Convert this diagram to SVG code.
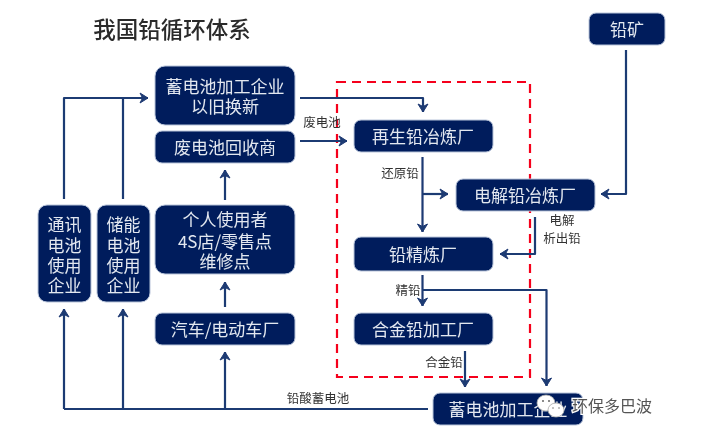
<svg xmlns="http://www.w3.org/2000/svg" width="703" height="445" viewBox="0 0 703 445">
<style>
text{font-family:"Noto Sans CJK SC","Liberation Sans",sans-serif}
.n rect{fill:#001f5c;stroke:#b9c4da;stroke-width:1}
.n text{fill:#e3e7f0;font-size:17px;text-anchor:middle}
.c{fill:none;stroke:#1f3a73;stroke-width:2.2;stroke-linejoin:round}
.a{marker-end:url(#ah)}
.l{fill:#333;font-size:12.5px;text-anchor:middle}
</style>
<defs>
<marker id="ah" markerUnits="userSpaceOnUse" markerWidth="12" markerHeight="12" refX="9" refY="6" orient="auto">
<path d="M1 1 L9 6 L1 11 L3.5 6 Z" fill="#1f3a73" stroke="#1f3a73" stroke-width="1"/>
</marker>
<filter id="b" x="-2%" y="-2%" width="104%" height="104%"><feGaussianBlur stdDeviation="0.45"/></filter>
</defs>
<rect width="703" height="445" fill="#fff"/>
<g filter="url(#b)">
<text x="172" y="38" font-size="22.5" font-weight="500" fill="#2b2b2b" text-anchor="middle">我国铅循环体系</text>
<rect id="redbox" x="337" y="82" width="193" height="295" fill="none" stroke="#f5051f" stroke-width="2.2" stroke-dasharray="9 6"/>
<g id="n1" class="n"><rect x="155" y="66" width="140" height="59" rx="10"/><text x="225" y="93">蓄电池加工企业</text><text x="225" y="113">以旧换新</text></g>
<g id="n2" class="n"><rect x="155" y="131" width="140" height="32" rx="7"/><text x="225" y="154">废电池回收商</text></g>
<g id="n3" class="n"><rect x="155" y="205" width="140" height="69" rx="10"/><text x="225" y="226">个人使用者</text><text x="225" y="248">4S店/零售点</text><text x="225" y="268">维修点</text></g>
<g id="n4" class="n"><rect x="155" y="313" width="140" height="32" rx="7"/><text x="225" y="336">汽车/电动车厂</text></g>
<g id="n5" class="n"><rect x="38" y="205" width="53" height="97" rx="9"/><text x="64.500" y="231">通讯</text><text x="64.500" y="251.500">电池</text><text x="64.500" y="271.500">使用</text><text x="64.500" y="292">企业</text></g>
<g id="n6" class="n"><rect x="97" y="205" width="53" height="97" rx="9"/><text x="123.500" y="231">储能</text><text x="123.500" y="251.500">电池</text><text x="123.500" y="271.500">使用</text><text x="123.500" y="292">企业</text></g>
<g id="n7" class="n"><rect x="589" y="13" width="76" height="32" rx="7"/><text x="627" y="36">铅矿</text></g>
<g id="n8" class="n"><rect x="354" y="120" width="139" height="32" rx="7"/><text x="423" y="143">再生铅冶炼厂</text></g>
<g id="n9" class="n"><rect x="456" y="179" width="139" height="32" rx="7"/><text x="525" y="202">电解铅冶炼厂</text></g>
<g id="n10" class="n"><rect x="354" y="237" width="139" height="34" rx="7"/><text x="423" y="261">铅精炼厂</text></g>
<g id="n11" class="n"><rect x="354" y="313" width="139" height="32" rx="7"/><text x="423" y="336">合金铅加工厂</text></g>
<g id="n12" class="n"><rect x="433" y="393" width="150" height="32" rx="7"/><text x="508" y="416">蓄电池加工企业</text></g>
<g id="connectors">
<path class="c a" d="M64 199V98H148"/>
<path class="c" d="M123 199V98"/>
<path class="c a" d="M300 98H423V112"/>
<path class="c a" d="M300 141H347"/>
<path class="c a" d="M225 200V170"/>
<path class="c a" d="M225 307V282"/>
<path class="c a" d="M225 409V352"/>
<path class="c a" d="M64 409V309"/>
<path class="c a" d="M123 409V309"/>
<path class="c" d="M64 409H428"/>
<path class="c a" d="M626 50V194H601"/>
<path class="c a" d="M422.500 157V232"/>
<path class="c a" d="M423 194H448"/>
<path class="c a" d="M535 217V254H500"/>
<path class="c a" d="M422.500 275V306"/>
<path class="c a" d="M423 290H546.500V386"/>
<path class="c a" d="M465 351V387"/>
</g>
<g id="labels">
<text class="l" x="322" y="127">废电池</text>
<text class="l" x="400" y="178">还原铅</text>
<text class="l" x="562" y="225">电解</text>
<text class="l" x="562" y="243">析出铅</text>
<text class="l" x="408" y="295">精铅</text>
<text class="l" x="444" y="367">合金铅</text>
<text class="l" x="318" y="403">铅酸蓄电池</text>
</g>
<g id="watermark">
<ellipse cx="546" cy="403" rx="9" ry="8" fill="#fff" stroke="#aaa" stroke-width="0.8"/>
<ellipse cx="556" cy="410" rx="8" ry="7" fill="#fff" stroke="#aaa" stroke-width="0.8"/>
<circle cx="543" cy="401" r="1" fill="#666"/><circle cx="549" cy="401" r="1" fill="#666"/>
<circle cx="553" cy="408" r="0.8" fill="#777"/><circle cx="559" cy="408" r="0.8" fill="#777"/>
<text x="612" y="412" font-size="16" text-anchor="middle" fill="#555" stroke="#fff" stroke-width="2.5" paint-order="stroke">环保多巴波</text>
</g>
</g>
</svg>
